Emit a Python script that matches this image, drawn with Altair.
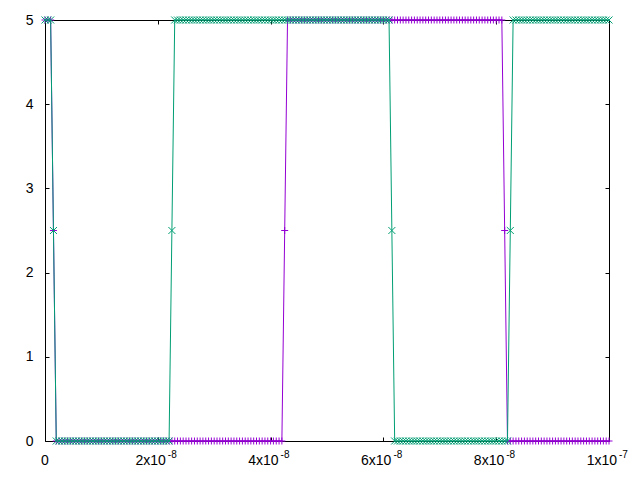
import altair as alt
import pandas as pd

# time grid in nanoseconds (0 .. 100 ns, 0.5 ns step)
time_ns = [i * 0.5 for i in range(201)]

# signal levels (V), as runs of samples
purple_v = [5] * 3 + [2.5] + [0] * 81 + [2.5] + [5] * 77 + [2.5] + [0] * 37
teal_v = [5] * 3 + [2.5] + [0] * 41 + [2.5] + [5] * 77 + [2.5] + [0] * 41 + [2.5] + [5] * 35

x_ticks = [0, 20, 40, 60, 80, 100]
x_tick_main = ["0", "2x10", "4x10", "6x10", "8x10", "1x10"]
x_tick_sup = ["", "-8", "-8", "-8", "-8", "-7"]
y_ticks = [0, 1, 2, 3, 4, 5]

purple = pd.DataFrame({"t": time_ns, "v": purple_v})
teal = pd.DataFrame({"t": time_ns, "v": teal_v})
xlab = pd.DataFrame({"t": x_ticks, "main": x_tick_main, "sup": x_tick_sup})

FONT = "Liberation Sans"
FS = 14
PLUS = "M-1,0L1,0M0,-1L0,1"
CROSS = "M-1,-1L1,1M-1,1L1,-1"
PURPLE = "#9400d3"
TEAL = "#009e73"
H = 421

xs = alt.Scale(domain=[0, 100], nice=False, zero=False)
ys = alt.Scale(domain=[0, 5], nice=False, zero=False)

ax_common = dict(tickSize=4, offset=-4, domain=False, grid=False, title=None,
                 tickColor="black", labelColor="black", labelFont=FONT,
                 labelFontSize=FS)

x_bottom = alt.Axis(orient="bottom", values=x_ticks, labels=False, **ax_common)
y_left = alt.Axis(orient="left", values=y_ticks, labelPadding=12, **ax_common)
x_top = alt.Axis(orient="top", values=x_ticks, labels=False, **ax_common)
y_right = alt.Axis(orient="right", values=y_ticks, labels=False, **ax_common)

p_line = alt.Chart(purple).mark_line(color=PURPLE, strokeWidth=1).encode(
    x=alt.X("t:Q", scale=xs, axis=x_bottom),
    y=alt.Y("v:Q", scale=ys, axis=y_left),
)
p_pts = alt.Chart(purple).mark_point(shape=PLUS, filled=False, size=49,
                                     color=PURPLE, strokeWidth=1, opacity=1).encode(
    x=alt.X("t:Q", scale=xs, axis=None),
    y=alt.Y("v:Q", scale=ys, axis=None),
)
t_line = alt.Chart(teal).mark_line(color=TEAL, strokeWidth=1).encode(
    x=alt.X("t:Q", scale=xs, axis=x_top),
    y=alt.Y("v:Q", scale=ys, axis=y_right),
)
t_pts = alt.Chart(teal).mark_point(shape=CROSS, filled=False, size=49,
                                   color=TEAL, strokeWidth=1, opacity=1).encode(
    x=alt.X("t:Q", scale=xs, axis=None),
    y=alt.Y("v:Q", scale=ys, axis=None),
)

# x tick labels: mantissa part and raised exponent part
lab_zero = alt.Chart(xlab).transform_filter("datum.sup == ''").mark_text(
    align="center", baseline="alphabetic", font=FONT, fontSize=FS, color="black"
).encode(x=alt.X("t:Q", scale=xs, axis=None), y=alt.value(H + 24), text="main:N")
lab_main = alt.Chart(xlab).transform_filter("datum.sup != ''").mark_text(
    align="right", baseline="alphabetic", dx=8, font=FONT, fontSize=FS, color="black"
).encode(x=alt.X("t:Q", scale=xs, axis=None), y=alt.value(H + 24), text="main:N")
lab_sup = alt.Chart(xlab).transform_filter("datum.sup != ''").mark_text(
    align="left", baseline="alphabetic", dx=10, font=FONT, fontSize=10, color="black"
).encode(x=alt.X("t:Q", scale=xs, axis=None), y=alt.value(H + 17), text="sup:N")

chart = alt.layer(p_line, p_pts, t_line, t_pts, lab_zero, lab_main, lab_sup).resolve_axis(
    x="independent", y="independent"
).properties(
    width=564, height=H,
    padding={"left": 45, "top": 20, "right": 31, "bottom": 39},
    autosize=alt.AutoSizeParams(type="none"),
    background="white",
).configure_view(stroke="black", strokeWidth=1)

chart.save("out.html", embed_options={"renderer": "svg", "actions": False})
